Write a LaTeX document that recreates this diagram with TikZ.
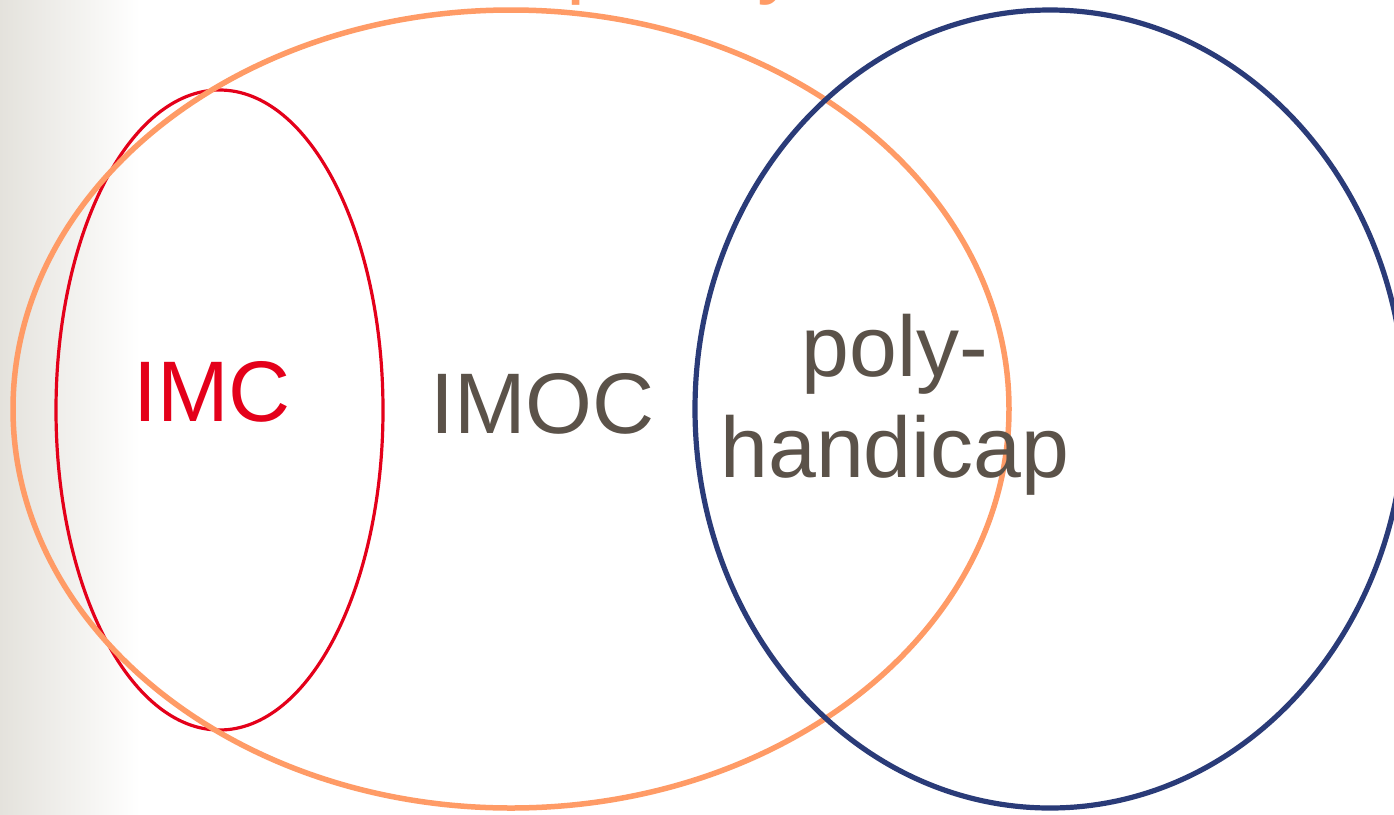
\documentclass[tikz,border=0pt]{standalone}
\usepackage{fontspec}
\setmainfont{Liberation Sans}
\definecolor{edgegray}{RGB}{228,226,220}
\definecolor{pcorange}{RGB}{255,155,102}
\definecolor{imcred}{RGB}{228,0,26}
\definecolor{polyblue}{RGB}{42,59,120}
\definecolor{textgray}{RGB}{91,82,73}
\tikzset{
  setline/.style={line width=#1},
  bigtext/.style={inner sep=0pt, outer sep=0pt, font=\fontsize{86}{101}\selectfont},
}
\begin{document}
\begin{tikzpicture}[x=1pt,y=-1pt]
\useasboundingbox (0,0) rectangle (1394,814);
\clip (0,0) rectangle (1394,814);
\fill[white] (0,0) rectangle (1394,814);
\shade[left color=edgegray, right color=white, shading angle=90] (0,0) rectangle (140,814);
% ellipses
\draw[imcred, setline=3.2pt] (219.5,410) ellipse [x radius=163.5, y radius=320];
\draw[pcorange, setline=5.5pt] (511,409) ellipse [x radius=498, y radius=399];
\draw[polyblue, setline=5.2pt] (1050,409) ellipse [x radius=355, y radius=399];
% labels
\node[bigtext, text=pcorange, anchor=base west] (toplabel) at (566,-13) {paralysie cérébrale};
\node[bigtext, text=imcred, anchor=base] (imc) at (212,421) {IMC};
\node[bigtext, text=textgray, anchor=base] (imoc) at (542.5,433) {IMOC};
\node[bigtext, text=textgray, anchor=base, align=center] (poly) at (895,477) {poly-\\handicap};
\end{tikzpicture}
\end{document}
